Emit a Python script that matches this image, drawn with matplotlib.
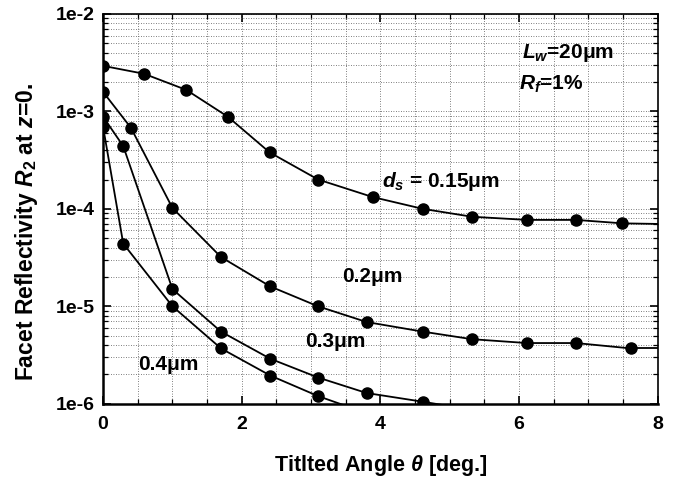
import matplotlib
matplotlib.use("Agg")
import matplotlib.pyplot as plt
from matplotlib.ticker import LogLocator, MultipleLocator, NullFormatter, FixedLocator, FixedFormatter

plt.rcParams['font.family'] = ['Liberation Sans', 'DejaVu Sans']
plt.rcParams['font.weight'] = 'bold'
plt.rcParams['mathtext.fontset'] = 'custom'
plt.rcParams['mathtext.rm'] = 'Liberation Sans:bold'
plt.rcParams['mathtext.it'] = 'Liberation Sans:italic:bold'
plt.rcParams['mathtext.bf'] = 'Liberation Sans:bold'

# d_s = 0.15 um
x_015 = [0, 0.59, 1.2, 1.8, 2.4, 3.1, 3.89, 4.61, 5.32, 6.11, 6.82, 7.49]
y_015 = [2.93e-3, 2.43e-3, 1.66e-3, 8.8e-4, 3.8e-4, 2.0e-4, 1.32e-4, 1.0e-4, 8.3e-5, 7.7e-5, 7.7e-5, 7.1e-5]
# d_s = 0.2 um
x_02 = [0, 0.4, 1.0, 1.7, 2.41, 3.1, 3.8, 4.61, 5.32, 6.11, 6.82, 7.61]
y_02 = [1.58e-3, 6.8e-4, 1.02e-4, 3.2e-5, 1.6e-5, 1.0e-5, 6.9e-6, 5.5e-6, 4.6e-6, 4.2e-6, 4.2e-6, 3.7e-6]
# d_s = 0.3 um
x_03 = [0, 0.29, 1.0, 1.7, 2.41, 3.1, 3.8, 4.61]
y_03 = [8.8e-4, 4.4e-4, 1.5e-5, 5.5e-6, 2.9e-6, 1.86e-6, 1.29e-6, 1.05e-6]
# d_s = 0.4 um
x_04 = [0, 0.29, 1.0, 1.7, 2.41, 3.1]
y_04 = [6.9e-4, 4.4e-5, 1.0e-5, 3.7e-6, 1.95e-6, 1.2e-6]

# line tails running past the last marker
tail_015 = ([7.49, 8.0], [7.1e-5, 7.0e-5])
tail_02 = ([7.61, 8.0], [3.7e-6, 3.7e-6])
tail_03 = ([4.61, 5.4], [1.05e-6, 8.5e-7])
tail_04 = ([3.1, 3.8], [1.2e-6, 8.0e-7])

ytick_vals = [1e-6, 1e-5, 1e-4, 1e-3, 1e-2]
ytick_text = ['1e-6', '1e-5', '1e-4', '1e-3', '1e-2']


def main():
    fig = plt.figure(figsize=(6.74, 4.79), dpi=100)
    ax = fig.add_axes([0.153, 0.157, 0.823, 0.814])

    for xs, ys, tail in [(x_015, y_015, tail_015), (x_02, y_02, tail_02),
                         (x_03, y_03, tail_03), (x_04, y_04, tail_04)]:
        ax.plot(xs, ys, color='black', lw=1.3, marker='o', ms=8, zorder=3)
        ax.plot(tail[0], tail[1], color='black', lw=1.3, zorder=3)

    ax.set_yscale('log')
    ax.set_xlim(0, 8)
    ax.set_ylim(1e-6, 1e-2)

    ax.xaxis.set_major_locator(MultipleLocator(2))
    ax.xaxis.set_minor_locator(MultipleLocator(0.5))
    ax.yaxis.set_major_locator(FixedLocator(ytick_vals))
    ax.yaxis.set_major_formatter(FixedFormatter(ytick_text))
    ax.yaxis.set_minor_locator(LogLocator(base=10, subs=range(2, 10)))
    ax.yaxis.set_minor_formatter(NullFormatter())

    ax.grid(True, which='both', color='#555555', ls=(0, (1, 2)), lw=0.6)
    ax.tick_params(which='both', direction='in', top=True, right=True, labelsize=14)
    ax.tick_params(which='major', length=6, width=1.2)
    ax.tick_params(which='minor', length=3.5, width=0.9)
    ax.tick_params(axis='x', pad=9)
    ax.tick_params(axis='y', pad=6)
    for s in ['left', 'bottom']:
        ax.spines[s].set_linewidth(1.8)
    for s in ['top', 'right']:
        ax.spines[s].set_linewidth(1.2)
    for lbl in ax.get_xticklabels() + ax.get_yticklabels():
        lbl.set_fontweight('bold')

    ax.set_xlabel(r'Titlted Angle $\theta$ [deg.]', fontsize=15.5, fontweight='bold', labelpad=14)
    ax.set_ylabel(r'Facet Reflectivity $R_2$ at $z$=0.', fontsize=16.5, fontweight='bold')
    ax.yaxis.set_label_coords(-0.113, 0.44)

    ax.text(6.04, 3.5e-3, r'$L_w$=20μm', fontsize=15, fontweight='bold')
    ax.text(6.0, 1.66e-3, r'$R_f$=1%', fontsize=15, fontweight='bold')
    ax.text(4.02, 1.68e-4, r'$d_s$ = 0.15μm', fontsize=15, fontweight='bold')
    ax.text(3.44, 1.78e-5, '0.2μm', fontsize=15, fontweight='bold')
    ax.text(2.91, 3.85e-6, '0.3μm', fontsize=15, fontweight='bold')
    ax.text(0.5, 2.24e-6, '0.4μm', fontsize=15, fontweight='bold')

    fig.savefig('out.png', dpi=100)


if __name__ == '__main__':
    main()
